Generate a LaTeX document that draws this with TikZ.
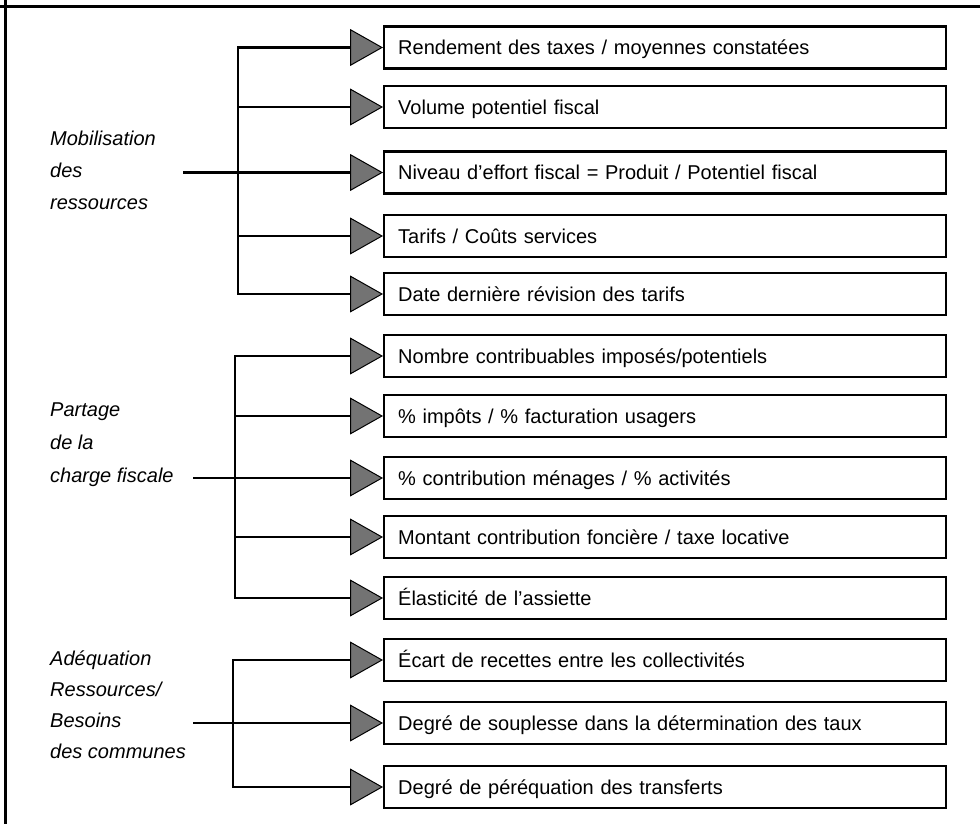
\documentclass[tikz,border=0pt]{standalone}
\usepackage{fontspec}
\setmainfont{Liberation Sans}
\usetikzlibrary{arrows.meta}
\begin{document}
\begin{tikzpicture}[x=1pt,y=-1pt,
  item/.style={draw, line width=2.4pt, anchor=west, minimum width=562pt,
    minimum height=42pt, text width=534pt, inner xsep=14pt, inner ysep=0pt,
    text height=14.3pt, text depth=0pt,
    align=left, font=\fontsize{20}{24}\selectfont},
  grp/.style={anchor=west, align=left, inner sep=0pt, font=\itshape},
  link/.style={line width=2.3pt},
  bar/.style={link, line cap=rect},
  feed/.style={link, -{Triangle[length=33pt,width=37pt,fill=black!55,line width=1pt]}}
]
\useasboundingbox (0,0) rectangle (980,824);

% frame rules
\draw[line width=3pt] (0,7) -- (980,7);
\draw[line width=3pt] (5,0) -- (5,824);

% indicator boxes
\node[item] (r1)  at (383,47.5) {Rendement des taxes / moyennes constatées};
\node[item] (r2)  at (383,107)  {Volume potentiel fiscal};
\node[item] (r3)  at (383,172.5){Niveau d'effort fiscal = Produit / Potentiel fiscal};
\node[item] (r4)  at (383,236)  {Tarifs / Coûts services};
\node[item] (r5)  at (383,294)  {Date dernière révision des tarifs};
\node[item] (r6)  at (383,356)  {Nombre contribuables imposés/potentiels};
\node[item] (r7)  at (383,416)  {\% impôts / \% facturation usagers};
\node[item] (r8)  at (383,478)  {\% contribution ménages / \% activités};
\node[item] (r9)  at (383,537)  {Montant contribution foncière / taxe locative};
\node[item] (r10) at (383,598)  {Élasticité de l'assiette};
\node[item] (r11) at (383,660)  {Écart de recettes entre les collectivités};
\node[item] (r12) at (383,723)  {Degré de souplesse dans la détermination des taux};
\node[item] (r13) at (383,787)  {Degré de péréquation des transferts};

% group labels
\node[grp, font=\fontsize{20}{32}\selectfont\itshape] (gm) at (50,170.7)
  {Mobilisation\\des\\ressources};
\node[grp, font=\fontsize{20}{33}\selectfont\itshape] (gp) at (50,444.7)
  {Partage\\de la\\charge fiscale};
\node[grp, font=\fontsize{20}{31}\selectfont\itshape] (ga) at (50,705)
  {Adéquation\\Ressources/\\Besoins\\des communes};

% stub starts and bus positions
\coordinate (sm) at (183,0);
\coordinate (sp) at (193,0);
\coordinate (sa) at (193,0);
\coordinate (bm) at (238,0);
\coordinate (bp) at (235,0);
\coordinate (ba) at (233,0);

% Mobilisation des ressources
\draw[link] (sm |- r3.west) -- (bm |- r3.west);
\draw[bar] (bm |- r1.west) -- (bm |- r5.west);
\foreach \r in {r1,r2,r3,r4,r5}
  \draw[feed] (bm |- \r.west) -- (\r.west);

% Partage de la charge fiscale
\draw[link] (sp |- r8.west) -- (bp |- r8.west);
\draw[bar] (bp |- r6.west) -- (bp |- r10.west);
\foreach \r in {r6,r7,r8,r9,r10}
  \draw[feed] (bp |- \r.west) -- (\r.west);

% Adequation ressources / besoins
\draw[link] (sa |- r12.west) -- (ba |- r12.west);
\draw[bar] (ba |- r11.west) -- (ba |- r13.west);
\foreach \r in {r11,r12,r13}
  \draw[feed] (ba |- \r.west) -- (\r.west);
\end{tikzpicture}
\end{document}
